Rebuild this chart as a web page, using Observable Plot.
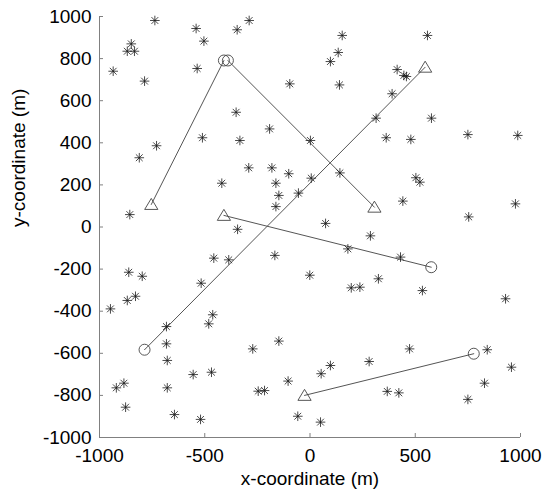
<!DOCTYPE html>
<html><head><meta charset="utf-8">
<script src="https://cdn.jsdelivr.net/npm/d3@7"></script>
<script src="https://cdn.jsdelivr.net/npm/@observablehq/plot@0.6"></script>
<style>body{margin:0;background:#fff;font-family:"Liberation Sans",Arial,sans-serif}</style>
</head><body><div id="chart"></div>
<script>
// sensor nodes (asterisks)
const starX = [-737,-541,-346,-289,-504,-849,-868,-834,-935,-536,-786,-96,-351,-192,-511,-333,-729,-811,-291,-181,-101,-162,-419,-148,-55,-162,-856,-344,
  153,558,134,97,414,446,458,140,390,314,577,2,362,479,750,987,142,6,503,522,441,976,754,74,
  -457,-386,-167,-861,-797,-1,-517,-829,-868,-948,-462,-481,-682,-682,-148,-272,-678,-555,-468,-104,-884,-920,-678,-246,-216,-876,-644,-520,-58,
  287,180,430,325,196,237,534,929,473,842,281,97,53,957,367,422,829,750,50];
const starY = [981,943,937,981,883,870,835,835,740,753,693,680,545,466,424,411,386,329,281,281,253,208,208,150,161,97,59,-11,
  910,910,829,786,748,720,715,675,633,517,517,411,424,416,439,435,257,232,234,213,123,110,48,17,
  -148,-156,-135,-215,-234,-229,-267,-329,-349,-389,-417,-460,-473,-555,-542,-579,-634,-701,-690,-732,-742,-764,-764,-780,-777,-856,-891,-914,-899,
  -42,-104,-143,-246,-289,-286,-302,-341,-579,-583,-639,-658,-697,-666,-781,-788,-742,-819,-927];
// trajectories: start (triangle) / end (circle)
const pathId = ["A","A","B","B","C","C","D","D","E","E"];
const pathX  = [-754,-409,-390,306,-786,547,-409,576,-26,778];
const pathY  = [107,791,791,94,-583,759,55,-191,-800,-602];
const triX = [-754,306,547,-409,-26];
const triY = [107,94,759,55,-800];
const circX = [-409,-390,-786,576,778];
const circY = [791,791,-583,-191,-602];
const xTicks = [-1000,-500,0,500,1000];
const yTicks = [-1000,-800,-600,-400,-200,0,200,400,600,800,1000];
const xLabel = "x-coordinate (m)";
const yLabel = "y-coordinate (m)";

const stars = starX.map((x,i)=>({x, y: starY[i]}));
const path = pathX.map((x,i)=>({x, y: pathY[i], id: pathId[i]}));
const tris = triX.map((x,i)=>({x, y: triY[i]}));
const circs = circX.map((x,i)=>({x, y: circY[i]}));

const star8 = {draw(ctx, size){const r=Math.sqrt(size/Math.PI), d=r*Math.SQRT1_2;
  ctx.moveTo(-r,0);ctx.lineTo(r,0);ctx.moveTo(0,-r);ctx.lineTo(0,r);
  ctx.moveTo(-d,-d);ctx.lineTo(d,d);ctx.moveTo(-d,d);ctx.lineTo(d,-d);}};
const tri = {draw(ctx, size){const r=Math.sqrt(size/Math.PI);
  ctx.moveTo(0,-r*1.1);ctx.lineTo(r*1.2,r*0.9);ctx.lineTo(-r*1.2,r*0.9);ctx.closePath();}};

const chart = Plot.plot({
  width: 550, height: 500,
  marginLeft: 99, marginRight: 30, marginTop: 16, marginBottom: 63,
  style: {fontFamily: '"Liberation Sans", Arial, sans-serif', fontSize: "19px", color: "#000", background: "#fff"},
  x: {domain: [-1000, 1000]},
  y: {domain: [-1000, 1000]},
  marks: [
    Plot.ruleX([-1000], {stroke: "#808080"}),
    Plot.ruleY([-1000], {stroke: "#808080"}),
    Plot.axisX({ticks: xTicks, tickSize: 4, dy: -4, stroke: "#808080", fill: "none", label: null}),
    Plot.axisY({ticks: yTicks, tickSize: 4, dx: 4, stroke: "#808080", fill: "none", label: null}),
    Plot.axisX({ticks: xTicks, tickSize: 0, tickPadding: 11, tickFormat: d => String(d), label: null, fontSize: 19, fill: "#000"}),
    Plot.axisY({ticks: yTicks, tickSize: 0, tickPadding: 8, tickFormat: d => String(d), label: null, fontSize: 19, fill: "#000"}),
    Plot.line(path, {x: "x", y: "y", z: "id", stroke: "#555", strokeWidth: 1}),
    Plot.dot(stars, {x: "x", y: "y", symbol: star8, r: 4.8, fill: "none", stroke: "#1a1a1a", strokeWidth: 0.8}),
    Plot.dot(tris, {x: "x", y: "y", symbol: tri, r: 5.5, fill: "none", stroke: "#444", strokeWidth: 0.9}),
    Plot.dot(circs, {x: "x", y: "y", r: 5.5, fill: "none", stroke: "#444", strokeWidth: 0.9}),
    Plot.text([xLabel], {frameAnchor: "bottom", dy: 47, fontSize: 19, fill: "#000"}),
    Plot.text([yLabel], {frameAnchor: "left", rotate: -90, dx: -81, fontSize: 19, fill: "#000"})
  ]
});
document.getElementById("chart").appendChild(chart);
</script>
</body></html>
